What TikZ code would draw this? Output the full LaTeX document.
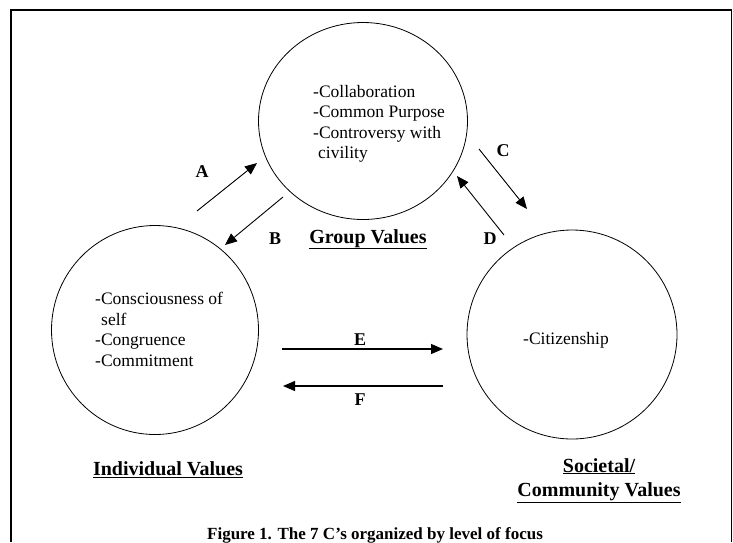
\documentclass[tikz,border=0pt]{standalone}
\usepackage{fontspec}
\setmainfont{Liberation Serif}
\usepackage{tikz}
\usetikzlibrary{shapes.geometric, arrows.meta, positioning}

\begin{document}
\begin{tikzpicture}[
  x=1pt, y=-1pt,
  valring/.style={draw, ellipse, line width=0.8pt, inner sep=0pt},
  vals/.style={align=left, inner sep=0pt, font=\fontsize{17.5}{20.5}\selectfont},
  level/.style={inner sep=0pt, align=center, font=\bfseries\fontsize{20}{24}\selectfont},
  tag/.style={inner sep=0pt, anchor=base, font=\bfseries\fontsize{18}{20}\selectfont},
  flow/.style={line width=0.9pt, -{Triangle[length=12pt, width=10pt]}}
]
  \useasboundingbox (0,0) rectangle (733,542);
  \draw[line width=1.8pt] (11,542) -- (11,10) -- (731.5,10) -- (731.5,542);

  \node[valring, minimum width=209pt, minimum height=197pt] (group) at (363,121) {};
  \node[valring, minimum width=207pt, minimum height=209pt] (indiv) at (155,330) {};
  \node[valring, minimum width=210pt, minimum height=209pt] (society) at (572,334.5) {};

  \node[vals, anchor=north west] (grouptxt) at (313,85) {
    -Collaboration\\
    -Common Purpose\\
    -Controversy with\\
    \hspace*{5pt}civility
  };
  \node[vals, anchor=north west] (indivtxt) at (95,292) {
    -Consciousness of\\
    \hspace*{6pt}self\\
    -Congruence\\
    -Commitment
  };
  \node[vals, anchor=base] (societytxt) at (566,344) {-Citizenship};

  \node[level, anchor=base] (grouplbl) at (368,243) {\underline{Group Values}};
  \node[level, anchor=base] (indivlbl) at (168,475) {\underline{Individual Values}};
  \node[level, anchor=north] (societylbl) at (599,458) {\underline{Societal/}\\\underline{Community Values}};

  \coordinate (a1) at (197,211);
  \coordinate (a2) at (257,163);
  \coordinate (b1) at (283,197);
  \coordinate (b2) at (225,245);
  \coordinate (c1) at (479,149);
  \coordinate (c2) at (527,209);
  \coordinate (d1) at (504,235);
  \coordinate (d2) at (457,176);
  \coordinate (e1) at (282,349);
  \coordinate (e2) at (443,349);
  \coordinate (f1) at (443,386);
  \coordinate (f2) at (283,386);

  \draw[flow] (a1) -- (a2);
  \draw[flow] (b1) -- (b2);
  \draw[flow] (c1) -- (c2);
  \draw[flow] (d1) -- (d2);
  \draw[flow, line width=1.2pt] (e1) -- (e2);
  \draw[flow, line width=1.2pt] (f1) -- (f2);

  \node[tag] (tagA) at (202,177) {A};
  \node[tag] (tagB) at (275,244) {B};
  \node[tag] (tagC) at (503,156) {C};
  \node[tag] (tagD) at (490,244) {D};
  \node[tag] (tagE) at (360,345) {E};
  \node[tag] (tagF) at (360,405) {F};

  \node[inner sep=0pt, anchor=base, font=\bfseries\fontsize{17}{20}\selectfont] (caption) at (375,539) {Figure 1. The 7 C’s organized by level of focus};
\end{tikzpicture}
\end{document}
